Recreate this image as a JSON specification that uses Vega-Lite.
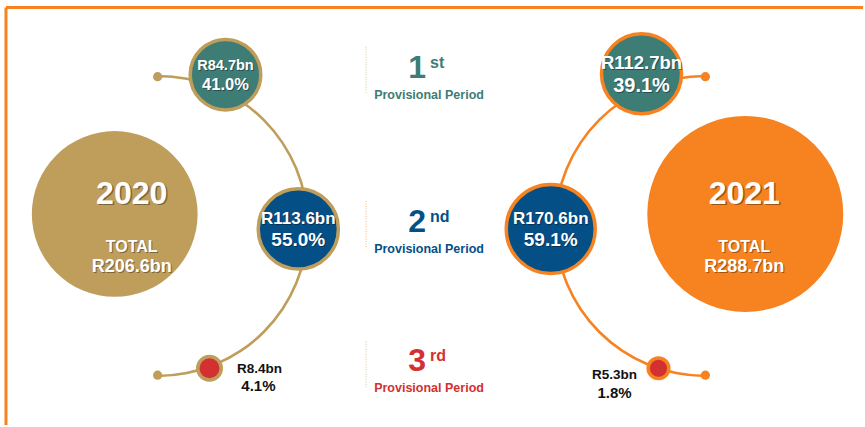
{
  "$schema": "https://vega.github.io/schema/vega-lite/v6.json",
  "width": 865,
  "height": 427,
  "padding": 0,
  "autosize": {"type": "fit", "contains": "padding"},
  "background": "white",
  "config": {
    "view": {"stroke": null},
    "text": {"font": "Liberation Sans", "fontWeight": "bold"}
  },
  "datasets": {
    "frame": [
      {"x": 6, "y": 7.5, "x2": 865, "y2": 7.5},
      {"x": 6, "y": 7.5, "x2": 6, "y2": 427}
    ],
    "arcs": [
      {"year": "2020", "x": 158, "y": 227, "t0": 0, "t1": 3.1416},
      {"year": "2021", "x": 707, "y": 227, "t0": 3.1416, "t1": 6.2832}
    ],
    "ends": [
      {"year": "2020", "x": 158, "y": 77},
      {"year": "2020", "x": 158, "y": 377},
      {"year": "2021", "x": 707, "y": 77},
      {"year": "2021", "x": 707, "y": 377}
    ],
    "totals": [
      {"year": "2020", "value": 206.6, "total": "R206.6bn", "x": 115, "y": 215, "tx": 132, "ty": 225},
      {"year": "2021", "value": 288.7, "total": "R288.7bn", "x": 747, "y": 215, "tx": 746, "ty": 225}
    ],
    "shares": [
      {"year": "2020", "period": "1st", "value": 84.7, "amount": "R84.7bn", "share": "41.0%", "x": 226, "y": 75},
      {"year": "2020", "period": "2nd", "value": 113.6, "amount": "R113.6bn", "share": "55.0%", "x": 299, "y": 230},
      {"year": "2020", "period": "3rd", "value": 8.4, "amount": "R8.4bn", "share": "4.1%", "x": 210, "y": 370},
      {"year": "2021", "period": "1st", "value": 112.7, "amount": "R112.7bn", "share": "39.1%", "x": 643, "y": 74},
      {"year": "2021", "period": "2nd", "value": 170.6, "amount": "R170.6bn", "share": "59.1%", "x": 552, "y": 230},
      {"year": "2021", "period": "3rd", "value": 5.3, "amount": "R5.3bn", "share": "1.8%", "x": 660, "y": 370}
    ],
    "notes": [
      {"kind": "amount", "t": "R8.4bn", "x": 260, "y": 375},
      {"kind": "share", "t": "4.1%", "x": 259, "y": 393},
      {"kind": "amount", "t": "R5.3bn", "x": 616, "y": 381},
      {"kind": "share", "t": "1.8%", "x": 616, "y": 400}
    ],
    "periods": [
      {"period": "1st", "num": "1", "suf": "st", "x": 418, "y": 75, "top": 47, "bottom": 93},
      {"period": "2nd", "num": "2", "suf": "nd", "x": 418, "y": 230, "top": 202, "bottom": 249},
      {"period": "3rd", "num": "3", "suf": "rd", "x": 418, "y": 370, "top": 343, "bottom": 389}
    ]
  },
  "encoding": {
    "x": {"field": "x", "type": "quantitative", "scale": {"domain": [0, 865], "nice": false, "zero": false}, "axis": null},
    "y": {"field": "y", "type": "quantitative", "scale": {"domain": [0, 427], "nice": false, "zero": false, "reverse": true}, "axis": null}
  },
  "resolve": {"scale": {"size": "independent"}},
  "layer": [
    {
      "data": {"name": "frame"},
      "mark": {"type": "rule", "stroke": "#F68220", "strokeWidth": 3},
      "encoding": {"x2": {"field": "x2"}, "y2": {"field": "y2"}}
    },
    {
      "data": {"name": "totals"},
      "mark": {"type": "circle", "opacity": 1},
      "encoding": {
        "size": {"field": "value", "type": "quantitative", "legend": null, "scale": {"type": "linear", "domain": [0, 100], "range": [0, 13300], "zero": true}},
        "fill": {"field": "year", "type": "nominal", "legend": null,
          "scale": {"domain": ["1st", "2nd", "3rd", "2020", "2021"], "range": ["#3E7C76", "#054F87", "#D33031", "#BF9D5A", "#F68220"]}}
      }
    },
    {
      "data": {"name": "arcs"},
      "mark": {"type": "arc", "radius": 151.3, "radius2": 148.7},
      "encoding": {
        "theta": {"field": "t0", "type": "quantitative", "scale": null, "stack": null},
        "theta2": {"field": "t1"},
        "fill": {"field": "year", "type": "nominal", "legend": null,
          "scale": {"domain": ["1st", "2nd", "3rd", "2020", "2021"], "range": ["#3E7C76", "#054F87", "#D33031", "#BF9D5A", "#F68220"]}}
      }
    },
    {
      "data": {"name": "ends"},
      "mark": {"type": "circle", "size": 85, "opacity": 1},
      "encoding": {
        "fill": {"field": "year", "type": "nominal", "legend": null,
          "scale": {"domain": ["1st", "2nd", "3rd", "2020", "2021"], "range": ["#3E7C76", "#054F87", "#D33031", "#BF9D5A", "#F68220"]}}
      }
    },
    {
      "data": {"name": "shares"},
      "mark": {"type": "circle", "opacity": 1, "strokeWidth": 3.5},
      "encoding": {
        "size": {"field": "value", "type": "quantitative", "legend": null, "scale": {"type": "linear", "domain": [0, 5.3, 8.4, 84.7, 112.7, 170.6], "range": [0, 426, 551, 4976, 6400, 7917], "zero": false}},
        "fill": {"field": "period", "type": "nominal", "legend": null,
          "scale": {"domain": ["1st", "2nd", "3rd", "2020", "2021"], "range": ["#3E7C76", "#054F87", "#D33031", "#BF9D5A", "#F68220"]}},
        "stroke": {"field": "year", "type": "nominal", "legend": null,
          "scale": {"domain": ["2020", "2021"], "range": ["#BF9D5A", "#F68220"]}}
      }
    },
    {
      "data": {"name": "totals"},
      "mark": {"type": "text", "fill": "#000", "opacity": 0.35, "dx": 1.5, "dy": -18.5, "fontSize": 32, "align": "center", "baseline": "alphabetic"},
      "encoding": {"x": {"field": "tx", "type": "quantitative"}, "y": {"field": "ty", "type": "quantitative"}, "text": {"field": "year"}}
    },
    {
      "data": {"name": "totals"},
      "mark": {"type": "text", "fill": "white", "dy": -20, "fontSize": 32, "align": "center", "baseline": "alphabetic"},
      "encoding": {"x": {"field": "tx", "type": "quantitative"}, "y": {"field": "ty", "type": "quantitative"}, "text": {"field": "year"}}
    },
    {
      "data": {"name": "totals"},
      "mark": {"type": "text", "fill": "#000", "opacity": 0.35, "dx": 1, "dy": 29, "fontSize": 16, "align": "center", "baseline": "alphabetic", "text": "TOTAL"},
      "encoding": {"x": {"field": "tx", "type": "quantitative"}, "y": {"field": "ty", "type": "quantitative"}}
    },
    {
      "data": {"name": "totals"},
      "mark": {"type": "text", "fill": "white", "dy": 28, "fontSize": 16, "align": "center", "baseline": "alphabetic", "text": "TOTAL"},
      "encoding": {"x": {"field": "tx", "type": "quantitative"}, "y": {"field": "ty", "type": "quantitative"}}
    },
    {
      "data": {"name": "totals"},
      "mark": {"type": "text", "fill": "#000", "opacity": 0.35, "dx": 1, "dy": 49, "fontSize": 18, "align": "center", "baseline": "alphabetic"},
      "encoding": {"x": {"field": "tx", "type": "quantitative"}, "y": {"field": "ty", "type": "quantitative"}, "text": {"field": "total"}}
    },
    {
      "data": {"name": "totals"},
      "mark": {"type": "text", "fill": "white", "dy": 48, "fontSize": 18, "align": "center", "baseline": "alphabetic"},
      "encoding": {"x": {"field": "tx", "type": "quantitative"}, "y": {"field": "ty", "type": "quantitative"}, "text": {"field": "total"}}
    },
    {
      "data": {"name": "shares"},
      "transform": [{"filter": "datum.period != '3rd'"}],
      "mark": {"type": "text", "fill": "#000", "opacity": 0.35, "dx": 1, "dy": -4, "align": "center", "baseline": "alphabetic"},
      "encoding": {
        "text": {"field": "amount"},
        "size": {"condition": [{"test": "datum.value < 100", "value": 14.5}, {"test": "datum.year == '2021' && datum.period == '1st'", "value": 18.5}], "value": 17}
      }
    },
    {
      "data": {"name": "shares"},
      "transform": [{"filter": "datum.period != '3rd'"}],
      "mark": {"type": "text", "fill": "white", "dy": -5, "align": "center", "baseline": "alphabetic"},
      "encoding": {
        "text": {"field": "amount"},
        "size": {"condition": [{"test": "datum.value < 100", "value": 14.5}, {"test": "datum.year == '2021' && datum.period == '1st'", "value": 18.5}], "value": 17}
      }
    },
    {
      "data": {"name": "shares"},
      "transform": [{"filter": "datum.period != '3rd'"}],
      "mark": {"type": "text", "fill": "#000", "opacity": 0.35, "dx": 1, "dy": 3, "align": "center", "baseline": "top"},
      "encoding": {
        "text": {"field": "share"},
        "size": {"condition": [{"test": "datum.value < 100", "value": 16.5}, {"test": "datum.year == '2021' && datum.period == '1st'", "value": 20}], "value": 19}
      }
    },
    {
      "data": {"name": "shares"},
      "transform": [{"filter": "datum.period != '3rd'"}],
      "mark": {"type": "text", "fill": "white", "dy": 2, "align": "center", "baseline": "top"},
      "encoding": {
        "text": {"field": "share"},
        "size": {"condition": [{"test": "datum.value < 100", "value": 16.5}, {"test": "datum.year == '2021' && datum.period == '1st'", "value": 20}], "value": 19}
      }
    },
    {
      "data": {"name": "notes"},
      "mark": {"type": "text", "fill": "#111", "align": "center", "baseline": "alphabetic"},
      "encoding": {
        "text": {"field": "t"},
        "size": {"condition": {"test": "datum.kind == 'amount'", "value": 13.5}, "value": 15}
      }
    },
    {
      "data": {"name": "periods"},
      "mark": {"type": "rule", "strokeDash": [1, 1.5], "strokeWidth": 1, "opacity": 0.6, "xOffset": -51},
      "encoding": {
        "y": {"field": "top", "type": "quantitative"},
        "y2": {"field": "bottom"},
        "stroke": {"field": "period", "type": "nominal", "legend": null,
          "scale": {"domain": ["1st", "2nd", "3rd", "2020", "2021"], "range": ["#3E7C76", "#054F87", "#D33031", "#BF9D5A", "#F68220"]}}
      }
    },
    {
      "data": {"name": "periods"},
      "mark": {"type": "text", "fontSize": 32, "align": "center", "baseline": "alphabetic", "dy": 3},
      "encoding": {
        "text": {"field": "num"},
        "fill": {"field": "period", "type": "nominal", "legend": null,
          "scale": {"domain": ["1st", "2nd", "3rd", "2020", "2021"], "range": ["#3E7C76", "#054F87", "#D33031", "#BF9D5A", "#F68220"]}}
      }
    },
    {
      "data": {"name": "periods"},
      "mark": {"type": "text", "fontSize": 16, "align": "left", "baseline": "alphabetic", "dy": -7, "dx": 13},
      "encoding": {
        "text": {"field": "suf"},
        "fill": {"field": "period", "type": "nominal", "legend": null,
          "scale": {"domain": ["1st", "2nd", "3rd", "2020", "2021"], "range": ["#3E7C76", "#054F87", "#D33031", "#BF9D5A", "#F68220"]}}
      }
    },
    {
      "data": {"name": "periods"},
      "mark": {"type": "text", "fontSize": 12.5, "align": "center", "baseline": "alphabetic", "dy": 24, "dx": 12, "text": "Provisional Period"},
      "encoding": {
        "fill": {"field": "period", "type": "nominal", "legend": null,
          "scale": {"domain": ["1st", "2nd", "3rd", "2020", "2021"], "range": ["#3E7C76", "#054F87", "#D33031", "#BF9D5A", "#F68220"]}}
      }
    }
  ]
}
